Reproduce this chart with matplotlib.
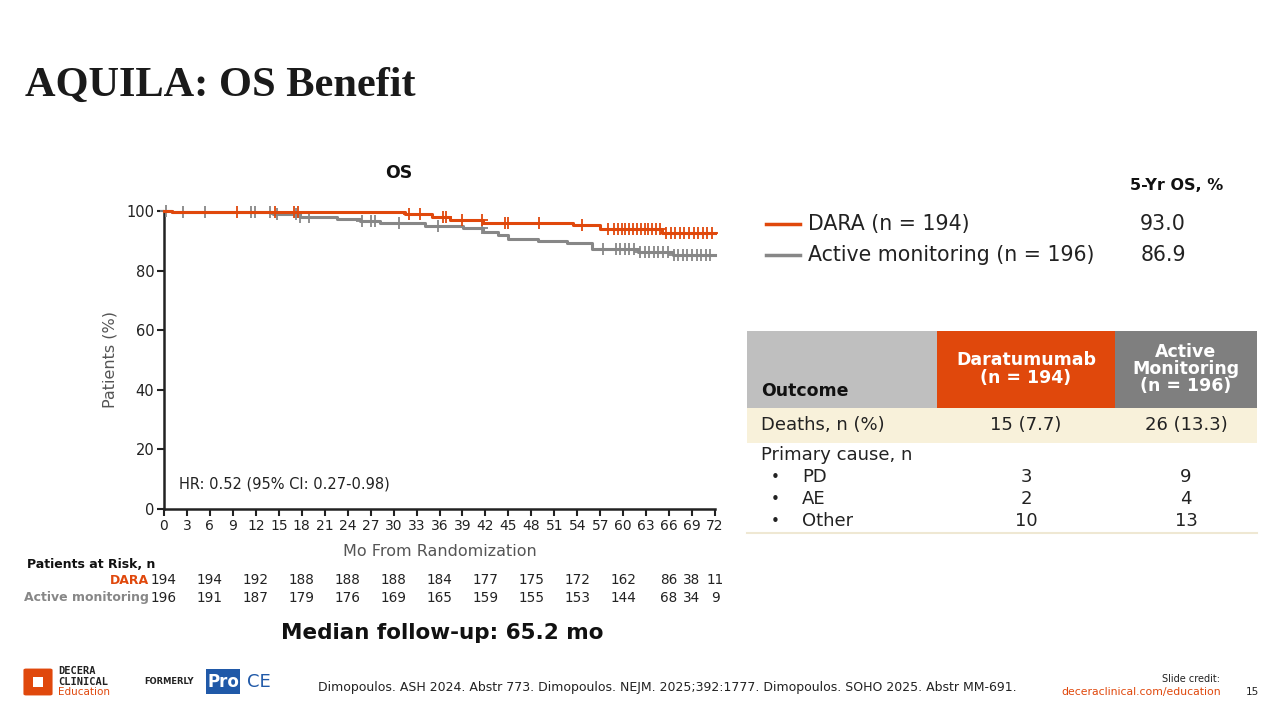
import numpy as np
import matplotlib
matplotlib.use('Agg')
import matplotlib.pyplot as plt
from matplotlib.patches import Rectangle, FancyBboxPatch
from matplotlib.transforms import blended_transform_factory

plt.rcParams['font.family'] = ['DejaVu Sans']

ORANGE = '#E0480C'
GRAY = '#878787'
DARK = '#222222'

# KM curves (months, % alive)
dara_t = [0, 1.0, 31.5, 35.0, 37.4, 41.7, 53.5, 57.0, 65.1, 72]
dara_s = [100, 99.5, 98.9, 98.1, 96.9, 96.1, 95.3, 94.0, 92.5, 92.5]
am_t = [0, 1.0, 14.2, 17.8, 22.6, 25.6, 28.2, 34.1, 39.1, 41.7, 43.7, 45.0,
        48.9, 52.7, 55.9, 62.0, 66.5, 72]
am_s = [100, 99.5, 98.9, 98.1, 97.3, 96.8, 95.9, 95.1, 94.2, 93.1, 91.9, 90.6,
        90.0, 89.4, 87.1, 86.3, 85.2, 85.2]

# censoring marks
dara_cens = [9.5, 14.5, 17.0, 17.5, 32.0, 33.5, 36.5, 36.8, 38.9, 41.6, 44.6,
             45.0, 49.0, 54.6, 58.0, 58.8, 59.3, 59.8, 60.3, 60.8, 61.3, 61.8,
             62.3, 62.8, 63.3, 63.8, 64.3, 64.8, 65.6, 66.2, 66.8, 67.4, 68.0,
             68.6, 69.2, 69.8, 70.4, 71.0, 71.6]
am_cens = [0.2, 2.5, 5.4, 11.4, 11.9, 13.9, 14.8, 17.3, 17.8, 18.9, 25.9, 27.1,
           27.6, 30.7, 35.8, 41.6, 57.4, 59.0, 59.6, 60.2, 60.8, 61.4, 62.2,
           62.8, 63.4, 64.0, 64.6, 65.2, 65.8, 66.6, 67.2, 67.8, 68.4, 69.0,
           69.6, 70.2, 70.8, 71.4]

# patients at risk
risk_t = [0, 6, 12, 18, 24, 30, 36, 42, 48, 54, 60, 66, 69, 72]
dara_risk = [194, 194, 192, 188, 188, 188, 184, 177, 175, 172, 162, 86, 38, 11]
am_risk = [196, 191, 187, 179, 176, 169, 165, 159, 155, 153, 144, 68, 34, 9]

x_ticks = list(range(0, 73, 3))
y_ticks = [0, 20, 40, 60, 80, 100]

legend_labels = ['DARA (n = 194)', 'Active monitoring (n = 196)']
os_5yr = ['93.0', '86.9']

tbl_header = ['Outcome', 'Daratumumab\n(n = 194)', 'Active\nMonitoring\n(n = 196)']
tbl_deaths = ['Deaths, n (%)', '15 (7.7)', '26 (13.3)']
tbl_causes = ['PD', 'AE', 'Other']
tbl_dara = ['3', '2', '10']
tbl_am = ['9', '4', '13']

W, H = 1280, 720
fig = plt.figure(figsize=(12.8, 7.2), dpi=100)


def fx(x):
    return x / W


def fy(y):
    return 1 - y / H


def surv_at(ts, t, s):
    idx = np.searchsorted(t, ts, side='right') - 1
    return np.array(s)[idx]


# title
fig.text(fx(25), fy(86), 'AQUILA: OS Benefit', family='Liberation Serif',
         fontsize=30.5, fontweight='bold', color='#1a1a1a', va='center')

# ---- KM plot ----
ax = fig.add_axes([fx(164), fy(509), fx(715) - fx(164), fy(211) - fy(509)])
ax.step(am_t, am_s, where='post', color=GRAY, lw=2.2, clip_on=False, zorder=3)
ax.step(dara_t, dara_s, where='post', color=ORANGE, lw=2.2, clip_on=False, zorder=4)
ax.plot(am_cens, surv_at(am_cens, am_t, am_s), ls='none', marker='+', ms=9,
        mew=1.3, color=GRAY, clip_on=False, zorder=3)
ax.plot(dara_cens, surv_at(dara_cens, dara_t, dara_s), ls='none', marker='+',
        ms=9, mew=1.3, color=ORANGE, clip_on=False, zorder=4)

ax.set_xlim(0, 72)
ax.set_ylim(0, 100)
ax.set_xticks(x_ticks)
ax.set_yticks(y_ticks)
ax.tick_params(labelsize=10.5, length=5, width=1.5, color=DARK, labelcolor=DARK, pad=2)
ax.tick_params(axis='x', labelsize=10)
for side in ['top', 'right']:
    ax.spines[side].set_visible(False)
for side in ['left', 'bottom']:
    ax.spines[side].set_linewidth(1.8)
    ax.spines[side].set_color(DARK)
ax.set_xlabel('Mo From Randomization', fontsize=11.5, color='#555555', labelpad=8)
ax.set_ylabel('Patients (%)', fontsize=11.5, color='#555555', labelpad=6)
ax.text(2, 8.5, 'HR: 0.52 (95% CI: 0.27-0.98)', fontsize=10.5, color=DARK, va='center')
fig.text(fx(399), fy(173), 'OS', fontsize=12.5, fontweight='bold', ha='center',
         va='center', color='#111111')

# at-risk table
tr = blended_transform_factory(ax.transData, fig.transFigure)
fig.text(fx(27), fy(565), 'Patients at Risk, n', fontsize=9, fontweight='bold',
         va='center', color='#111111')
fig.text(fx(149), fy(580), 'DARA', fontsize=9, fontweight='bold', ha='right',
         va='center', color=ORANGE)
fig.text(fx(149), fy(598), 'Active monitoring', fontsize=9, fontweight='bold',
         ha='right', va='center', color=GRAY)
for t, a, b in zip(risk_t, dara_risk, am_risk):
    ax.text(t, fy(580), str(a), transform=tr, ha='center', va='center',
            fontsize=9.8, color=DARK)
    ax.text(t, fy(598), str(b), transform=tr, ha='center', va='center',
            fontsize=9.8, color=DARK)

fig.text(fx(442), fy(633), 'Median follow-up: 65.2 mo', fontsize=15.5,
         fontweight='bold', ha='center', va='center', color='#111111')

# ---- legend with 5-yr OS ----
fig.text(fx(1177), fy(185), '5-Yr OS, %', fontsize=11.5, fontweight='bold',
         ha='center', va='center', color='#111111')
for i, (lab, val, col) in enumerate(zip(legend_labels, os_5yr, [ORANGE, GRAY])):
    yy = 224 + i * 31
    fig.add_artist(plt.Line2D([fx(766), fx(800)], [fy(yy), fy(yy)], color=col, lw=2.5))
    fig.text(fx(808), fy(yy), lab, fontsize=14.8, va='center', color=DARK)
    fig.text(fx(1163), fy(yy), val, fontsize=14.8, va='center', ha='center', color=DARK)

# ---- outcome table ----
cols = [(747, 937, '#BFBFBF'), (937, 1115, ORANGE), (1115, 1257, '#7F7F7F')]
for x0, x1, c in cols:
    fig.add_artist(Rectangle((fx(x0), fy(408)), fx(x1) - fx(x0), fy(331) - fy(408),
                             color=c, lw=0))
fig.add_artist(Rectangle((fx(747), fy(443)), fx(1257) - fx(747), fy(408) - fy(443),
                         color='#F8F1DA', lw=0))
fig.add_artist(plt.Line2D([fx(747), fx(1257)], [fy(533), fy(533)], color='#EFE8D3', lw=1.5))

fig.text(fx(761), fy(391), tbl_header[0], fontsize=12.5, fontweight='bold',
         va='center', color='#111111')
fig.text(fx(1026), fy(369), tbl_header[1], fontsize=12.5, fontweight='bold',
         ha='center', va='center', color='white', linespacing=1.05)
fig.text(fx(1186), fy(369), tbl_header[2], fontsize=12.5, fontweight='bold',
         ha='center', va='center', color='white', linespacing=0.95)

fig.text(fx(761), fy(425), tbl_deaths[0], fontsize=13, va='center', color=DARK)
fig.text(fx(1026), fy(425), tbl_deaths[1], fontsize=13, va='center', ha='center', color=DARK)
fig.text(fx(1186), fy(425), tbl_deaths[2], fontsize=13, va='center', ha='center', color=DARK)
fig.text(fx(761), fy(455), 'Primary cause, n', fontsize=13, va='center', color=DARK)
for i, (c, a, b) in enumerate(zip(tbl_causes, tbl_dara, tbl_am)):
    yy = 477 + i * 22
    fig.text(fx(775), fy(yy), '\u2022', fontsize=11, va='center', ha='center', color=DARK)
    fig.text(fx(802), fy(yy), c, fontsize=13, va='center', color=DARK)
    fig.text(fx(1026), fy(yy), a, fontsize=13, va='center', ha='center', color=DARK)
    fig.text(fx(1186), fy(yy), b, fontsize=13, va='center', ha='center', color=DARK)

# ---- footer ----
fig.add_artist(FancyBboxPatch((fx(26), fy(694)), fx(24), fy(670) - fy(694),
                              boxstyle='round,pad=0.002', color=ORANGE, lw=0))
fig.add_artist(Rectangle((fx(33), fy(687)), fx(10), fy(677) - fy(687), color='white', lw=0))
fig.text(fx(58), fy(671), 'DECERA', fontsize=7.5, fontweight='bold', va='center',
         color='#222222', family='DejaVu Sans Mono')
fig.text(fx(58), fy(682), 'CLINICAL', fontsize=7.5, fontweight='bold', va='center',
         color='#222222', family='DejaVu Sans Mono')
fig.text(fx(58), fy(692), 'Education', fontsize=7.5, va='center', color=ORANGE)
fig.text(fx(144), fy(682), 'FORMERLY', fontsize=6, fontweight='bold', va='center',
         color='#222222')
fig.add_artist(Rectangle((fx(206), fy(694)), fx(34), fy(669) - fy(694),
                         color='#2059A8', lw=0))
fig.text(fx(223), fy(682), 'Pro', fontsize=12, fontweight='bold', ha='center',
         va='center', color='white')
fig.text(fx(259), fy(682), 'CE', fontsize=13, ha='center', va='center', color='#2059A8')

fig.text(fx(667), fy(688), 'Dimopoulos. ASH 2024. Abstr 773. Dimopoulos. NEJM. '
         '2025;392:1777. Dimopoulos. SOHO 2025. Abstr MM-691.', fontsize=9.0,
         ha='center', va='center', color='#222222')
fig.text(fx(1220), fy(679), 'Slide credit:', fontsize=7, ha='right', va='center', color='#222222')
fig.text(fx(1221), fy(692), 'deceraclinical.com/education', fontsize=7.8, ha='right',
         va='center', color=ORANGE)
fig.text(fx(1252), fy(692), '15', fontsize=7.5, ha='center', va='center', color='#222222')

fig.savefig('out.png', dpi=100)
